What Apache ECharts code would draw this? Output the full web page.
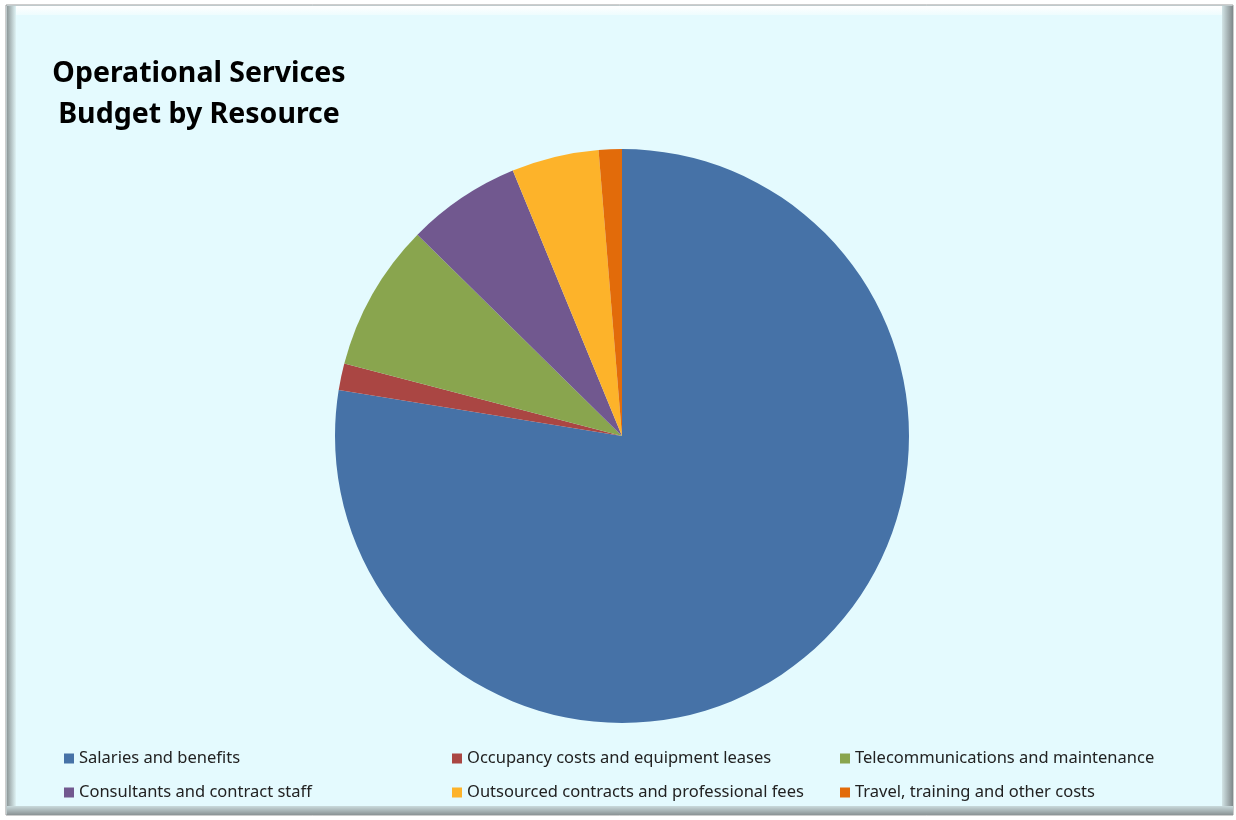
<!DOCTYPE html>
<html><head><meta charset="utf-8">
<script src="https://cdn.jsdelivr.net/npm/echarts@6/dist/echarts.min.js"></script>
<style>html,body{margin:0;padding:0;background:#fff;}#c{width:1236px;height:820px;}</style>
</head><body><div id="c"></div>
<script>
const categories = ['Salaries and benefits','Occupancy costs and equipment leases','Telecommunications and maintenance','Consultants and contract staff','Outsourced contracts and professional fees','Travel, training and other costs'];
const values = [77.4, 1.5, 8.3, 6.4, 4.9, 1.3];
const colors = ['#4672A7','#AA4643','#89A54E','#71588F','#FDB32A','#E26B0A'];
const titleLines = ['Operational Services','Budget by Resource'];

const chart = echarts.init(document.getElementById('c'));
const legendPos = [[64,750],[452,750],[840,750],[64,784],[452,784],[840,784]];
const legends = categories.map((n,i)=>({
  data:[n], left:legendPos[i][0], top:legendPos[i][1], orient:'horizontal',
  itemWidth:10, itemHeight:10, icon:'rect', padding:0, selectedMode:false,
  textStyle:{fontFamily:'Noto Sans', fontSize:16.5, color:'#222', padding:[0,0,0,0]}
}));
const G = (x1,y1,x2,y2,c1,c2)=>new echarts.graphic.LinearGradient(x1,y1,x2,y2,[{offset:0,color:c1},{offset:1,color:c2}]);
chart.setOption({
  animation:false,
  color:colors,
  graphic:[
    {type:'rect', shape:{x:6,y:5,width:1227,height:810}, style:{fill:'#E4FAFE', stroke:'#9a9a9a', lineWidth:1}, z:-10},
    {type:'rect', shape:{x:7,y:6,width:1225,height:9}, style:{fill:G(0,0,0,1,'#ffffff','#eefcfe')}, z:-9},
    {type:'rect', shape:{x:7,y:6,width:9,height:808}, style:{fill:G(0,0,1,0,'#8e9899','#dff3f5')}, z:-8},
    {type:'rect', shape:{x:1222,y:6,width:11,height:808}, style:{fill:G(0,0,1,0,'#d2e4e6','#7f8789')}, z:-7},
    {type:'rect', shape:{x:7,y:806,width:1226,height:9}, style:{fill:G(0,0,0,1,'#c9dadc','#8a9294')}, z:-6},
    {type:'text', style:{text:titleLines[0], x:199, y:74, textAlign:'center', textVerticalAlign:'middle', fontFamily:'Noto Sans', fontWeight:'bold', fontSize:28.5, fill:'#000'}},
    {type:'text', style:{text:titleLines[1], x:199, y:115, textAlign:'center', textVerticalAlign:'middle', fontFamily:'Noto Sans', fontWeight:'bold', fontSize:28.5, fill:'#000'}}
  ],
  legend: legends,
  series:[{
    type:'pie', center:[622,436], radius:287, startAngle:90, clockwise:true,
    label:{show:false}, labelLine:{show:false}, emphasis:{disabled:true},
    itemStyle:{borderWidth:0},
    data: categories.map((n,i)=>({name:n, value:values[i]}))
  }]
});
</script></body></html>
